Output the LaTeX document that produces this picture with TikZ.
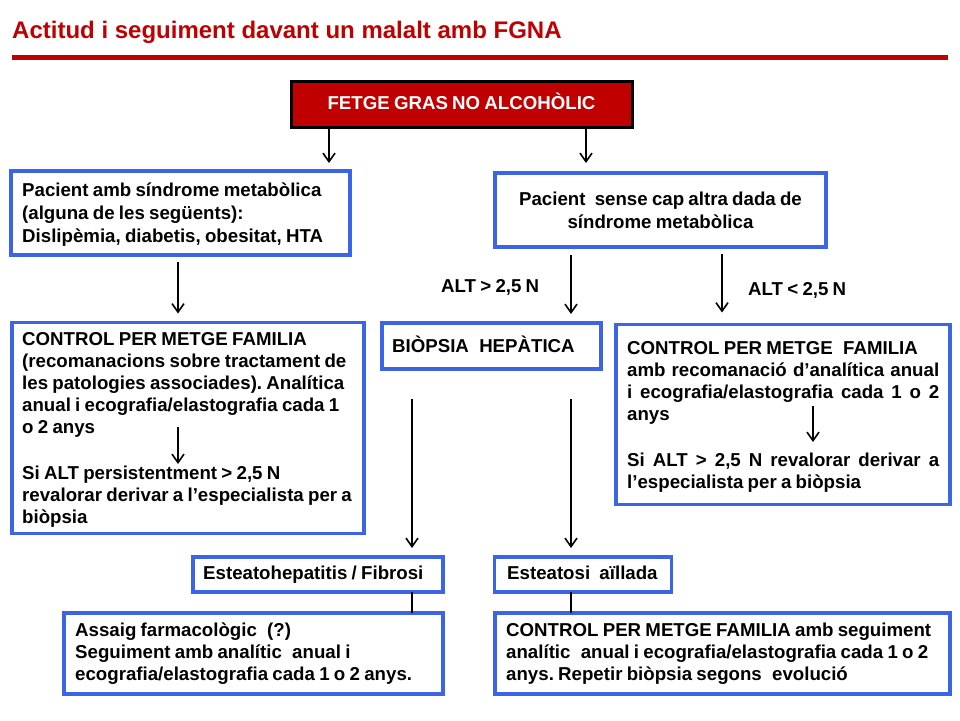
\documentclass[tikz,border=0pt]{standalone}
\usepackage{fontspec}
\setmainfont{Liberation Sans}[WordSpace=0.82]
\newfontfamily\titlefam{Liberation Sans}
\usetikzlibrary{arrows.meta}
\definecolor{slidered}{RGB}{192,0,0}
\definecolor{boxblue}{RGB}{60,100,230}
\newcommand\fixsp{\spaceskip=0.23em plus 0.3em minus 0.05em\relax\xspaceskip=\spaceskip}
\newcommand\bodyfont{\fontsize{18.67}{22}\selectfont\bfseries\frenchspacing}
\newcommand\bodyfontw{\fontsize{18.67}{23}\selectfont\bfseries\frenchspacing}
\tikzset{
  bluebox/.style={draw=boxblue, line width=3.2pt, inner sep=0pt, outer sep=0pt, fill=white},
  redbox/.style={draw=black, fill=slidered, line width=3pt, inner sep=0pt, outer sep=0pt},
  txt/.style={inner sep=0pt, anchor=base west, text width=440pt, font=\bodyfont},
  lbl/.style={inner sep=0pt, anchor=base west, font=\bodyfont},
  arr/.style={line width=1.6pt, -{Straight Barb[length=8.5pt,width=12pt]}},
  link/.style={line width=1.6pt}
}
\begin{document}
\begin{tikzpicture}[x=1pt,y=-1pt]
\useasboundingbox (0,0) rectangle (960,720);
% title
\node[anchor=base west, inner sep=0pt, text=slidered, font=\titlefam\fontsize{24}{28}\selectfont\bfseries] (title) at (12,38.5) {Actitud i seguiment davant un malalt amb FGNA};
\coordinate (rl1) at (12,57);
\coordinate (rl2) at (948,57);
\draw[slidered, line width=5pt] (rl1) -- (rl2);
% top box
\node[redbox, minimum width=341pt, minimum height=46pt] (top) at (461.5,104) {};
\node[anchor=base, inner sep=0pt, text=white, font=\bodyfont] (toptext) at (461.5,109) {FETGE GRAS NO ALCOHÒLIC};
% boxes
\node[bluebox, minimum width=339pt, minimum height=84pt] (A) at (180.5,213) {};
\node[bluebox, minimum width=331pt, minimum height=74pt] (B) at (660.5,210) {};
\node[bluebox, minimum width=352pt, minimum height=211pt] (C) at (188,428) {};
\node[bluebox, minimum width=219pt, minimum height=46pt] (D) at (491.5,346) {};
\node[bluebox, minimum width=334pt, minimum height=180pt] (E) at (783,414.5) {};
\node[bluebox, minimum width=250pt, minimum height=35pt] (F) at (318,574.5) {};
\node[bluebox, minimum width=177pt, minimum height=35pt] (G) at (583,574.5) {};
\node[bluebox, minimum width=379pt, minimum height=81pt] (H) at (253.5,653.5) {};
\node[bluebox, minimum width=455pt, minimum height=81pt] (I) at (722.5,653.5) {};
% texts
\node[txt, font=\bodyfontw] (Atext) at (22,196) {\fixsp Pacient amb síndrome metabòlica\\(alguna de les següents):\\Dislipèmia, diabetis, obesitat, HTA};
\node[inner sep=0pt, anchor=base, text width=330pt, font=\bodyfontw] (Btext) at (660.5,205) {\fixsp\centering Pacient\hspace{5pt} sense cap altra dada de\\síndrome metabòlica\par};
\node[txt] (Ctext) at (22,345) {\fixsp CONTROL PER METGE FAMILIA\\(recomanacions sobre tractament de\\les patologies associades). Analítica\\anual i ecografia/elastografia cada 1\\o 2 anys\\[24pt]Si ALT persistentment > 2,5 N\\revalorar derivar a l’especialista per a\\biòpsia};
\node[txt] (Dtext) at (392,352) {\fixsp BIÒPSIA\hspace{6pt} HEPÀTICA};
\node[txt] (Etext) at (627,354) {\fixsp CONTROL PER METGE\hspace{6pt} FAMILIA\\\makebox[312pt][s]{amb recomanació d’analítica anual}\\\makebox[312pt][s]{i ecografia/elastografia cada 1 o 2}\\anys\\[24pt]\makebox[312pt][s]{Si ALT > 2,5 N revalorar derivar a}\\l’especialista per a biòpsia};
\node[txt] (Ftext) at (203,579) {\fixsp Esteatohepatitis / Fibrosi};
\node[txt] (Gtext) at (507,579) {\fixsp Esteatosi\hspace{5pt} aïllada};
\node[txt] (Htext) at (75,636) {\fixsp Assaig farmacològic\hspace{6pt} (?)\\Seguiment amb analític\hspace{6pt} anual i\\ecografia/elastografia cada 1 o 2 anys.};
\node[txt] (Itext) at (506,636) {\fixsp CONTROL PER METGE FAMILIA amb seguiment\\analític\hspace{6pt} anual i ecografia/elastografia cada 1 o 2\\anys. Repetir biòpsia segons\hspace{6pt} evolució};
% labels
\node[lbl] (lblhi) at (441,292) {ALT > 2,5 N};
\node[lbl] (lbllo) at (748,295) {ALT < 2,5 N};
% connectors
\draw[arr, shorten >=8pt] (top.south -| 329,0) -- (A.north -| 329,0);
\draw[arr, shorten >=10pt] (top.south -| 586,0) -- (B.north -| 586,0);
\draw[arr, shorten <=7pt, shorten >=9pt] (A.south -| 178,0) -- (C.north -| 178,0);
\draw[arr, shorten <=8pt, shorten >=9pt] (B.south -| 571,0) -- (D.north -| 571,0);
\draw[arr, shorten <=7pt, shorten >=12pt] (B.south -| 722,0) -- (E.north -| 722,0);
\draw[arr, shorten <=30pt, shorten >=9pt] (D.south -| 412,0) -- (F.north -| 412,0);
\draw[arr, shorten <=30pt, shorten >=9pt] (D.south -| 571,0) -- (G.north -| 571,0);
\draw[link] (F.south -| 412,0) -- (H.north -| 412,0);
\draw[link] (G.south -| 571,0) -- (I.north -| 571,0);
% arrows inside boxes
\coordinate (c1) at (178,427);
\coordinate (c2) at (178,464);
\draw[arr] (c1) -- (c2);
\coordinate (e1) at (813,406);
\coordinate (e2) at (813,442);
\draw[arr] (e1) -- (e2);
\end{tikzpicture}
\end{document}
